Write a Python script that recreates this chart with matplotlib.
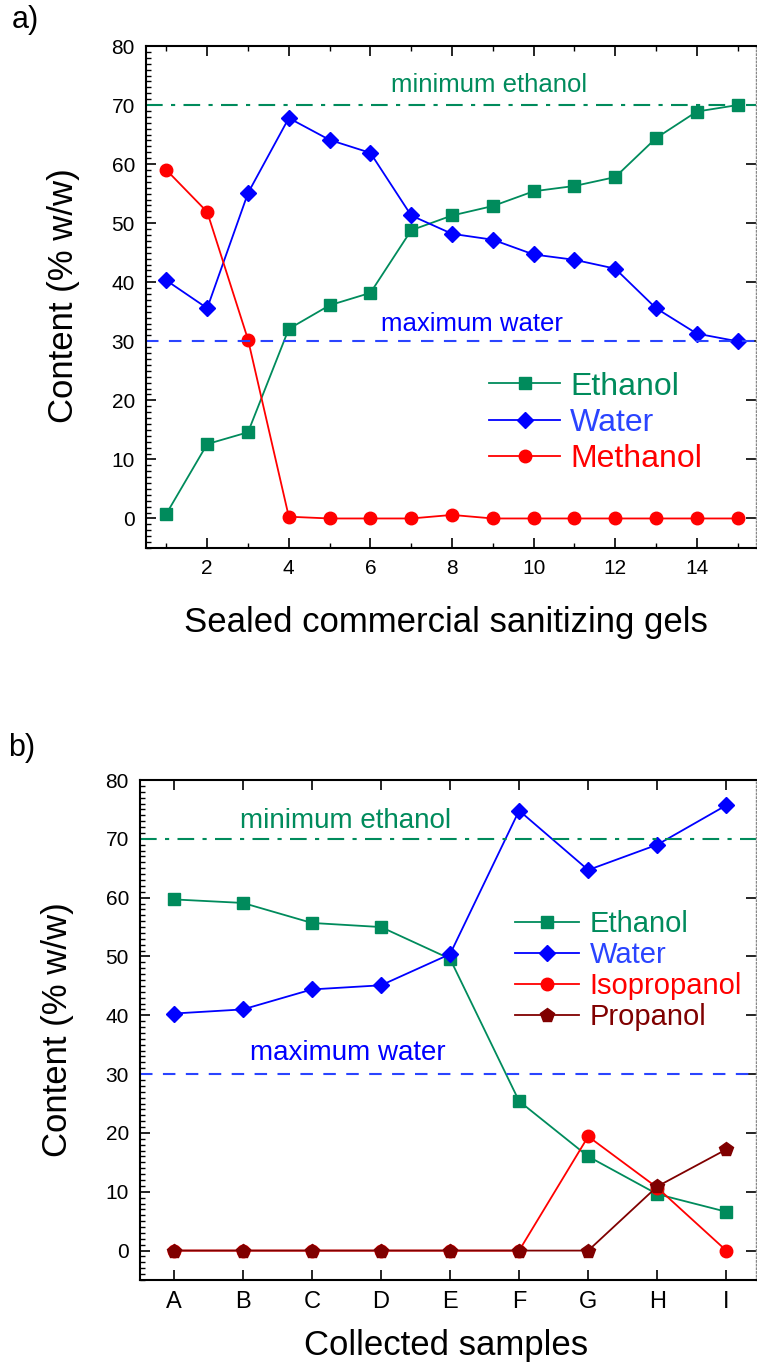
import matplotlib
matplotlib.use("Agg")
import matplotlib.pyplot as plt
from matplotlib.ticker import MultipleLocator, FixedLocator

plt.rcParams['font.family'] = ['Liberation Sans', 'DejaVu Sans']

# ---- data panel a ----
gels = list(range(1, 16))
eth_a = [0.8, 12.6, 14.6, 32.1, 36.1, 38.2, 48.8, 51.3, 52.9, 55.4, 56.3, 57.8, 64.4, 68.9, 70.0]
water_a = [40.3, 35.6, 55.1, 67.8, 64.1, 61.9, 51.3, 48.2, 47.2, 44.7, 43.8, 42.3, 35.6, 31.3, 30.0]
meth_a = [59.0, 51.9, 30.3, 0.3, 0, 0, 0, 0.6, 0, 0, 0, 0, 0, 0, 0]

# ---- data panel b ----
samples = ['A', 'B', 'C', 'D', 'E', 'F', 'G', 'H', 'I']
eth_b = [59.7, 59.1, 55.7, 55.0, 49.6, 25.4, 16.0, 9.6, 6.6]
water_b = [40.3, 41.0, 44.4, 45.1, 50.4, 74.8, 64.7, 69.0, 75.7]
iso_b = [0, 0, 0, 0, 0, 0, 19.4, 10.7, 0]
prop_b = [0, 0, 0, 0, 0, 0, 0, 10.9, 17.2]

min_ethanol = 70
max_water = 30

GREEN = '#008B5C'
BLUE = '#0000FF'
LBLUE = '#2A44FF'
RED = '#FF0000'
DRED = '#800000'

W, H = 757, 1370
fig = plt.figure(figsize=(W / 100, H / 100), dpi=100)


def px_axes(l, t, r, b):
    return fig.add_axes([l / W, 1 - b / H, (r - l) / W, (b - t) / H])


def style(ax, tick_fs):
    ax.tick_params(axis='both', which='both', direction='in', top=True, right=True,
                   labelsize=tick_fs, pad=8)
    ax.tick_params(axis='both', which='major', length=7, width=1.2)
    ax.tick_params(axis='both', which='minor', length=3.5, width=1.0)
    ax.tick_params(axis='y', which='minor', right=False)
    for s in ['left', 'bottom', 'top']:
        ax.spines[s].set_linewidth(1.5)
    ax.spines['right'].set_linestyle(':')
    ax.spines['right'].set_color('#888888')
    ax.spines['right'].set_linewidth(1.0)


# ---------------- panel a ----------------
ax1 = px_axes(146, 46, 756, 548)
ax1.plot(gels, eth_a, color=GREEN, marker='s', ms=8, lw=1.3, label='Ethanol')
ax1.plot(gels, water_a, color=BLUE, marker='D', ms=8.5, lw=1.3, label='Water')
ax1.plot(gels, meth_a, color=RED, marker='o', ms=9, lw=1.3, label='Methanol')
ax1.axhline(min_ethanol, color=GREEN, ls=(0, (8, 4, 2, 4)), lw=1.5)
ax1.axhline(max_water, color=LBLUE, ls=(0, (6, 5)), lw=1.5)
ax1.set_xlim(0.5, 15.45)
ax1.set_ylim(-5, 80)
ax1.xaxis.set_major_locator(FixedLocator([2, 4, 6, 8, 10, 12, 14]))
ax1.xaxis.set_minor_locator(FixedLocator([1, 3, 5, 7, 9, 11, 13, 15]))
ax1.yaxis.set_major_locator(MultipleLocator(10))
ax1.yaxis.set_minor_locator(MultipleLocator(1))
style(ax1, 15)
ax1.text(8.9, 73.4, 'minimum ethanol', color=GREEN, fontsize=18.5, ha='center', va='center')
ax1.text(8.48, 33.0, 'maximum water', color=BLUE, fontsize=18.5, ha='center', va='center')
leg1 = ax1.legend(loc='center left', bbox_to_anchor=(0.563, 0.249), frameon=False,
                  borderpad=0, borderaxespad=0,
                  fontsize=23, handlelength=2.2, handletextpad=0.32, labelspacing=0.2)
for t, c in zip(leg1.get_texts(), [GREEN, LBLUE, RED]):
    t.set_color(c)
fig.text(64 / W, 1 - 296 / H, 'Content (% w/w)', rotation=90, fontsize=25,
         ha='center', va='center')
fig.text(446 / W, 1 - 622 / H, 'Sealed commercial sanitizing gels', fontsize=25,
         ha='center', va='center')
fig.text(12 / W, 1 - 20 / H, 'a)', fontsize=22, ha='left', va='center')

# ---------------- panel b ----------------
ax2 = px_axes(140, 780, 756, 1280)
xb = list(range(len(samples)))
ax2.plot(xb, eth_b, color=GREEN, marker='s', ms=8, lw=1.3, label='Ethanol')
ax2.plot(xb, water_b, color=BLUE, marker='D', ms=8.5, lw=1.3, label='Water')
ax2.plot(xb, iso_b, color=RED, marker='o', ms=9, lw=1.3, label='Isopropanol')
ax2.plot(xb, prop_b, color=DRED, marker='p', ms=10, lw=1.3, label='Propanol')
ax2.axhline(min_ethanol, color=GREEN, ls=(0, (8, 4, 2, 4)), lw=1.5)
ax2.axhline(max_water, color=LBLUE, ls=(0, (6, 5)), lw=1.5)
ax2.set_xlim(-0.49, 8.43)
ax2.set_ylim(-5, 80)
ax2.set_xticks(xb)
ax2.set_xticklabels(samples)
ax2.yaxis.set_major_locator(MultipleLocator(10))
ax2.yaxis.set_minor_locator(MultipleLocator(1))
style(ax2, 15)
ax2.tick_params(axis='x', labelsize=17)
ax2.text(2.49, 73.1, 'minimum ethanol', color=GREEN, fontsize=20, ha='center', va='center')
ax2.text(2.52, 33.65, 'maximum water', color=BLUE, fontsize=20, ha='center', va='center')
leg2 = ax2.legend(loc='center left', bbox_to_anchor=(0.609, 0.619), frameon=False,
                  borderpad=0, borderaxespad=0,
                  fontsize=21, handlelength=2.2, handletextpad=0.35, labelspacing=0.1)
for t, c in zip(leg2.get_texts(), [GREEN, LBLUE, RED, DRED]):
    t.set_color(c)
fig.text(58 / W, 1 - 1030 / H, 'Content (% w/w)', rotation=90, fontsize=25,
         ha='center', va='center')
fig.text(446 / W, 1 - 1345 / H, 'Collected samples', fontsize=25,
         ha='center', va='center')
fig.text(8 / W, 1 - 748 / H, 'b)', fontsize=22, ha='left', va='center')

fig.savefig('out.png', dpi=100)
